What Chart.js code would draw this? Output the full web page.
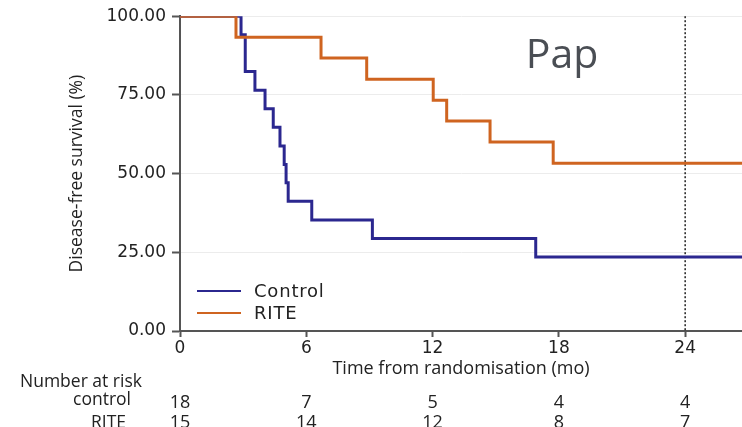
<!DOCTYPE html>
<html>
<head>
<meta charset="utf-8">
<script src="https://cdn.jsdelivr.net/npm/chart.js@4/dist/chart.umd.min.js"></script>
<style>
  html, body { margin: 0; padding: 0; background: #fff; }
  #wrap { width: 742px; height: 427px; }
</style>
</head>
<body>
<div id="wrap"><canvas id="kmChart" width="742" height="427"></canvas></div>
<script>
(() => {
  'use strict'

  // Curvas de Kaplan-Meier (meses, % supervivencia)
  const controlTimes = [0, 2.9, 3.1, 3.56, 4.04, 4.43, 4.75, 4.95, 5.04, 5.14, 6.26, 9.14, 16.9, 26.7]
  const controlSurv = [100, 94.1, 82.4, 76.5, 70.6, 64.7, 58.8, 52.9, 47.1, 41.2, 35.3, 29.4, 23.5, 23.5]
  const riteTimes = [0, 2.66, 6.7, 8.87, 12.03, 12.67, 14.73, 17.73, 26.7]
  const riteSurv = [100, 93.3, 86.7, 80.0, 73.3, 66.7, 60.0, 53.3, 53.3]

  // Ejes
  const xTickValues = [0, 6, 12, 18, 24]
  const yTickValues = [0, 25, 50, 75, 100]
  const xMax = 26.7
  const markerTime = 24

  // Tabla de pacientes en riesgo
  const riskTimes = [0, 6, 12, 18, 24]
  const riskLabels = ['control', 'RITE']
  const riskControl = [18, 7, 5, 4, 4]
  const riskRite = [15, 14, 12, 8, 7]

  const seriesNames = ['Control', 'RITE']
  const seriesColors = ['#2b278f', '#cf6420']

  const toPoints = (xs, ys) => xs.map((x, i) => ({ x, y: ys[i] }))

  const tickFont = { family: 'DejaVu Sans', size: 17 }
  const textFont = 'Open Sans'

  // Leyenda, linea punteada, etiqueta "Pap" y tabla de riesgo
  const extrasPlugin = {
    id: 'extras',
    beforeDatasetsDraw(chart) {
      const { ctx, chartArea, scales } = chart
      const x = scales.x.getPixelForValue(markerTime)
      ctx.save()
      ctx.strokeStyle = '#222'
      ctx.lineWidth = 1.5
      ctx.setLineDash([2, 2])
      ctx.beginPath()
      ctx.moveTo(x, chartArea.top)
      ctx.lineTo(x, chartArea.bottom)
      ctx.stroke()
      ctx.restore()
    },
    afterDraw(chart) {
      const { ctx, chartArea, scales } = chart
      ctx.save()

      // Leyenda
      ctx.font = '18px "DejaVu Sans"'
      ctx.letterSpacing = '0.8px'
      ctx.textBaseline = 'middle'
      ctx.textAlign = 'left'
      chart.data.datasets.forEach((ds, i) => {
        const y = 291 + i * 22
        ctx.strokeStyle = ds.borderColor
        ctx.lineWidth = 2
        ctx.beginPath()
        ctx.moveTo(chartArea.left + 17, y)
        ctx.lineTo(chartArea.left + 61, y)
        ctx.stroke()
        ctx.fillStyle = '#222'
        ctx.fillText(ds.label, chartArea.left + 74, y + 1)
      })
      ctx.letterSpacing = '0px'

      // Etiqueta del panel
      ctx.font = '41px "' + textFont + '"'
      ctx.fillStyle = '#4a4e54'
      ctx.textAlign = 'center'
      ctx.textBaseline = 'alphabetic'
      ctx.fillText('Pap', 562, 68)

      // Numero en riesgo
      ctx.fillStyle = '#222'
      ctx.font = '17.5px "' + textFont + '"'
      ctx.textAlign = 'left'
      ctx.textBaseline = 'middle'
      ctx.fillText('Number at risk', 20, 382)
      ctx.textAlign = 'right'
      ctx.fillText(riskLabels[0], 131, 400)
      ctx.fillText(riskLabels[1], 126, 423)

      ctx.font = '18px "' + textFont + '"'
      ctx.textAlign = 'center'
      riskTimes.forEach((t, i) => {
        const x = scales.x.getPixelForValue(t)
        ctx.fillText(String(riskControl[i]), x, 403)
        ctx.fillText(String(riskRite[i]), x, 423)
      })
      ctx.restore()
    }
  }

  const ctx = document.getElementById('kmChart')

  new Chart(ctx, {
    type: 'line',
    data: {
      datasets: [
        {
          label: seriesNames[0],
          data: toPoints(controlTimes, controlSurv),
          borderColor: seriesColors[0],
          borderWidth: 3,
          stepped: 'before',
          pointRadius: 0,
          fill: false,
          order: 2
        },
        {
          label: seriesNames[1],
          data: toPoints(riteTimes, riteSurv),
          borderColor: seriesColors[1],
          borderWidth: 3,
          stepped: 'before',
          pointRadius: 0,
          fill: false,
          order: 1
        }
      ]
    },
    options: {
      responsive: false,
      animation: false,
      layout: { padding: { top: 15, left: 0, right: 0, bottom: 0 } },
      plugins: {
        legend: { display: false },
        tooltip: { enabled: false }
      },
      scales: {
        x: {
          type: 'linear',
          min: 0,
          max: xMax,
          afterBuildTicks: (scale) => {
            scale.ticks = xTickValues.map(v => ({ value: v }))
          },
          afterFit: (scale) => { scale.height = 96 },
          border: { color: '#555', width: 2 },
          grid: {
            drawOnChartArea: false,
            tickColor: '#555',
            tickLength: 6,
            tickWidth: 2
          },
          ticks: {
            font: tickFont,
            color: '#222',
            padding: 1,
            maxRotation: 0,
            callback: (v) => String(v)
          },
          title: {
            display: true,
            text: 'Time from randomisation (mo)',
            font: { family: textFont, size: 18 },
            color: '#222',
            padding: { top: 0, bottom: 47 }
          }
        },
        y: {
          min: 0,
          max: 100,
          afterBuildTicks: (scale) => {
            scale.ticks = yTickValues.map(v => ({ value: v }))
          },
          afterFit: (scale) => { scale.width = 180 },
          border: { color: '#555', width: 2 },
          grid: {
            color: '#ececec',
            tickColor: '#555',
            tickLength: 8,
            tickWidth: 2
          },
          ticks: {
            font: tickFont,
            color: '#222',
            padding: 6,
            callback: (v) => v.toFixed(2)
          },
          title: {
            display: true,
            text: 'Disease-free survival (%)',
            font: { family: textFont, size: 17.5 },
            color: '#222',
            padding: { top: 67, bottom: 0 }
          }
        }
      }
    },
    plugins: [extrasPlugin]
  })
})()
</script>
</body>
</html>
